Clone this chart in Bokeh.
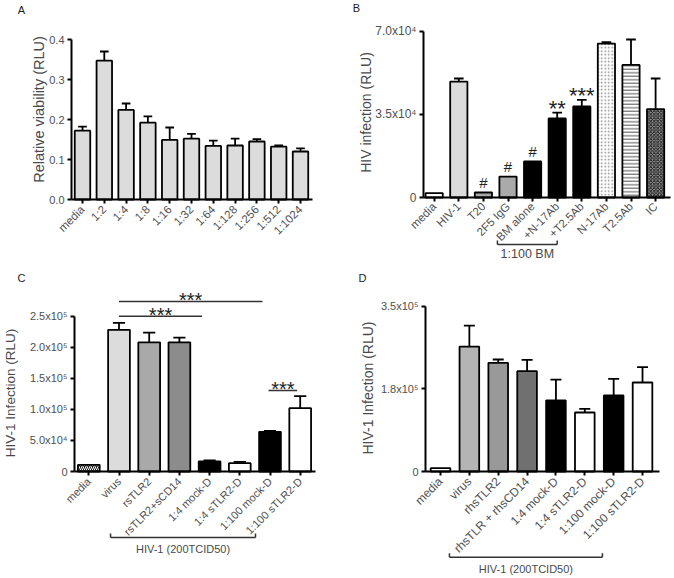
import math
from bokeh.plotting import figure
from bokeh.models import ColumnDataSource, FixedTicker, Label, Arrow, Range1d
from bokeh.layouts import row, column
from bokeh.embed import file_html
from bokeh.resources import INLINE
from bokeh.core.properties import value

FONT = "Liberation Sans"
TICK_C = "#505050"
TITLE_C = "#4a4a4a"
LETTER_C = "#222222"

# ---------------- data ----------------
# Panel A
A_labels = ["media", "1:2", "1:4", "1:8", "1:16", "1:32", "1:64", "1:128", "1:256", "1:512", "1:1024"]
A_values = [0.172, 0.347, 0.224, 0.192, 0.149, 0.152, 0.134, 0.135, 0.145, 0.132, 0.120]
A_errors = [0.010, 0.023, 0.016, 0.016, 0.031, 0.012, 0.013, 0.017, 0.006, 0.003, 0.008]
A_yticks = [0.0, 0.1, 0.2, 0.3, 0.4]
A_ytick_labels = ["0.0", "0.1", "0.2", "0.3", "0.4"]
A_title = "Relative viability (RLU)"

# Panel B
B_labels = ["media", "HIV-1", "T20", "2F5 IgG", "BM alone", "+N-17Ab", "+T2.5Ab", "N-17Ab", "T2.5Ab", "IC"]
B_values = [1800, 48800, 2100, 8800, 15150, 33250, 38300, 64800, 55800, 37200]
B_errors = [0, 1300, 0, 0, 0, 2500, 2800, 600, 10700, 12900]
B_marks = ["", "", "#", "#", "#", "**", "***", "", "", ""]
B_yticks = [0, 35000, 70000]
B_ytick_labels = ["0", "3.5x10\u2074", "7.0x10\u2074"]
B_title = "HIV infection (RLU)"
B_group = "1:100 BM"
B_group_span = [2.57, 5.0]

# Panel C
C_labels = ["media", "virus", "rsTLR2", "rsTLR2+sCD14", "1:4 mock-D", "1:4 sTLR2-D", "1:100 mock-D", "1:100 sTLR2-D"]
C_values = [10700, 228000, 208000, 208000, 16100, 13400, 63800, 102000]
C_errors = [0, 11300, 15500, 7500, 1600, 2200, 1700, 19300]
C_yticks = [0, 50000, 100000, 150000, 200000, 250000]
C_ytick_labels = ["0", "5.0x10\u2074", "1.0x10\u2075", "1.5x10\u2075", "2.0x10\u2075", "2.5x10\u2075"]
C_title = "HIV-1 Infection (RLU)"
C_sig_start = [1.0, 1.0, 5.95]
C_sig_end = [3.75, 5.75, 6.9]
C_sig_level = [250000, 273700, 130400]
C_sig_text = ["***", "***", "***"]
C_group = "HIV-1 (200TCID50)"
C_group_span = [0.72, 5.52]

# Panel D
D_labels = ["media", "virus", "rhsTLR2", "rhsTLR + rhsCD14", "1:4 mock-D", "1:4 sTLR2-D", "1:100 mock-D", "1:100 sTLR2-D"]
D_values = [7000, 264600, 230000, 212400, 150300, 124900, 160900, 188400]
D_errors = [0, 44400, 7100, 24000, 44400, 7800, 35300, 32500]
D_yticks = [0, 175000, 350000]
D_ytick_labels = ["0", "1.8x10\u2075", "3.5x10\u2075"]
D_title = "HIV-1 Infection (RLU)"
D_group = "HIV-1 (200TCID50)"
D_group_span = [0.31, 5.61]

# ---------------- styles ----------------
A_fill = ["#dcdcdc"] * 11
A_hatch = [" "] * 11
A_hatch_color = ["black"] * 11

B_fill = ["white", "#dcdcdc", "#a8a8a8", "#aaaaaa", "black", "black", "black", "white", "white", "#9a9a9a"]
B_hatch = [" ", " ", " ", " ", " ", " ", " ", "dot", "horizontal_line", "diagonal_cross"]
B_hatch_color = ["black"] * 7 + ["#8a8a8a", "#505050", "#1a1a1a"]

C_fill = ["#222222", "#dcdcdc", "#a9a9a9", "#8c8c8c", "black", "white", "black", "white"]
C_hatch = ["right_diagonal_line", " ", " ", " ", " ", " ", " ", " "]
C_hatch_color = ["white"] + ["black"] * 7

D_fill = ["white", "#b4b4b4", "#999999", "#707070", "black", "white", "black", "white"]
D_hatch = [" "] * 8
D_hatch_color = ["black"] * 8


def panel(fx0, fy0, w, h, ax_l, ax_r, ax_t, ax_b, c0, sp, ymax):
    """Figure whose frame covers the whole canvas; axes are placed inside it."""
    upp = ymax / (ax_b - ax_t)
    p = figure(width=w, height=h,
               x_range=Range1d((fx0 - c0) / sp, (fx0 + w - c0) / sp),
               y_range=Range1d(-(fy0 + h - ax_b) * upp, (ax_b - fy0) * upp),
               output_backend="svg", toolbar_location=None, title=None,
               min_border_left=0, min_border_right=0, min_border_top=0, min_border_bottom=0)
    p.outline_line_color = None
    p.xgrid.visible = False
    p.ygrid.visible = False

    def X(px):
        return (px - c0) / sp

    def Y(py):
        return (ax_b - py) * upp

    p.xaxis.fixed_location = 0
    p.yaxis.fixed_location = X(ax_l)
    p.xaxis.bounds = (X(ax_l), X(ax_r))
    p.yaxis.bounds = (0, ymax)
    return p, X, Y


def style_axes(p, labels, yticks, ylabels, xsize, ysize):
    p.xaxis.ticker = FixedTicker(ticks=list(range(len(labels))))
    p.xaxis.major_label_overrides = {i: lab for i, lab in enumerate(labels)}
    p.xaxis.major_label_orientation = math.pi / 4
    p.yaxis.ticker = FixedTicker(ticks=yticks)
    p.yaxis.major_label_overrides = {t: lab for t, lab in zip(yticks, ylabels)}
    for ax, size in ((p.xaxis, xsize), (p.yaxis, ysize)):
        ax.axis_line_width = 2
        ax.axis_line_color = "black"
        ax.major_tick_line_width = 2
        ax.major_tick_line_color = "black"
        ax.major_tick_out = 4
        ax.major_tick_in = 0
        ax.minor_tick_line_color = None
        ax.major_label_text_font = FONT
        ax.major_label_text_font_size = size
        ax.major_label_text_color = TICK_C
    p.xaxis.major_label_standoff = 4
    p.yaxis.major_label_standoff = 3


def draw_bars(p, values, errors, fills, hatches, hcolors, bw, hscale=4):
    xs = list(range(len(values)))
    src = ColumnDataSource(dict(x=xs, top=values, fill=fills, hatch=hatches, hcol=hcolors))
    p.vbar(x="x", top="top", width=bw, bottom=0, source=src, fill_color="fill",
           line_color="black", line_width=1.8, hatch_pattern="hatch", hatch_color="hcol",
           hatch_scale=hscale, hatch_weight=1)
    ex = [x for x, e in zip(xs, errors) if e > 0]
    ev = [v for v, e in zip(values, errors) if e > 0]
    et = [v + e for v, e in zip(values, errors) if e > 0]
    cw = bw * 0.28
    esrc = ColumnDataSource(dict(x=ex, v=ev, t=et, xl=[x - cw for x in ex], xr=[x + cw for x in ex]))
    p.segment(x0="x", y0="v", x1="x", y1="t", source=esrc, line_color="black", line_width=1.8)
    p.segment(x0="xl", y0="t", x1="xr", y1="t", source=esrc, line_color="black", line_width=1.8)


def add_text(p, x, y, text, size, color=TITLE_C, angle=0.0, align="center"):
    p.add_layout(Label(x=x, y=y, text=text, text_font=FONT, text_font_size=size,
                       text_color=color, angle=angle, text_align=align, text_baseline="middle"))


def add_line(p, xa, ya, xb, yb, width=1.5, color="#333333"):
    p.add_layout(Arrow(x_start=xa, y_start=ya, x_end=xb, y_end=yb, start=None, end=None,
                       line_width=width, line_color=color))


def bracket(p, Y, span, py, label, label_py, size):
    ya = Y(py)
    yt = Y(py - 4)
    add_line(p, span[0], ya, span[1], ya)
    add_line(p, span[0], ya, span[0], yt)
    add_line(p, span[1], ya, span[1], yt)
    add_text(p, (span[0] + span[1]) / 2, Y(label_py), label, size)


# ---------------- Panel A ----------------
pA, XA, YA = panel(0, 0, 337, 270, 71, 312, 39, 199, 82, 21.8, 0.4)
style_axes(pA, A_labels, A_yticks, A_ytick_labels, "11.5px", "11px")
pA.yaxis.major_label_overrides = {0: "0.0", 0.1: "0.1", 0.2: "0.2", 0.3: "0.3", 0.4: "0.4"}
draw_bars(pA, A_values, A_errors, A_fill, A_hatch, A_hatch_color, 0.71)
add_text(pA, XA(38), YA(109), A_title, "14.5px", angle=math.pi / 2)
add_text(pA, XA(21), YA(9), "A", "11px", color=LETTER_C)

# ---------------- Panel B ----------------
pB, XB, YB = panel(337, 0, 337, 270, 423, 670, 30.7, 197, 433.7, 24.6, 70000)
style_axes(pB, B_labels, B_yticks, B_ytick_labels, "11.5px", "12px")
pB.xaxis.major_label_standoff = 3
draw_bars(pB, B_values, B_errors, B_fill, B_hatch, B_hatch_color, 0.70, hscale=3.5)
hx = [i for i, m in enumerate(B_marks) if m == "#"]
hy = [B_values[i] + B_errors[i] for i in hx]
pB.text(x=hx, y=hy, text=["#"] * len(hx), text_font=value(FONT), text_font_size="15px",
        text_align="center", text_baseline="middle", y_offset=-10, text_color=LETTER_C)
sx = [i for i, m in enumerate(B_marks) if m.startswith("*")]
sy = [B_values[i] + B_errors[i] for i in sx]
pB.text(x=sx, y=sy, text=[B_marks[i] for i in sx], text_font=value(FONT), text_font_size="22px",
        text_align="center", text_baseline="middle", y_offset=-4, text_color=LETTER_C)
bracket(pB, YB, B_group_span, 244, B_group, 253, "12.5px")
add_text(pB, XB(365), YB(112), B_title, "14px", angle=math.pi / 2)
add_text(pB, XB(356), YB(7), "B", "11px", color=LETTER_C)

# ---------------- Panel C ----------------
pC, XC, YC = panel(0, 270, 337, 308, 74, 315, 315.7, 471, 88.3, 30.2, 250000)
style_axes(pC, C_labels, C_yticks, C_ytick_labels, "11px", "11px")
draw_bars(pC, C_values, C_errors, C_fill, C_hatch, C_hatch_color, 0.72, hscale=4)
pC.segment(x0=C_sig_start, y0=C_sig_level, x1=C_sig_end, y1=C_sig_level,
           line_color="#333333", line_width=1.5)
pC.text(x=[(a + b) / 2 for a, b in zip(C_sig_start, C_sig_end)], y=C_sig_level, text=C_sig_text,
        text_font=value(FONT), text_font_size="20px", text_align="center",
        text_baseline="middle", y_offset=-1, text_color=LETTER_C)
bracket(pC, YC, C_group_span, 537, C_group, 548, "11px")
add_text(pC, XC(10), YC(392.5), C_title, "13.5px", angle=math.pi / 2)
add_text(pC, XC(21), YC(277), "C", "11px", color=LETTER_C)

# ---------------- Panel D ----------------
pD, XD, YD = panel(337, 270, 337, 308, 425, 659, 305.7, 471, 440, 28.86, 350000)
style_axes(pD, D_labels, D_yticks, D_ytick_labels, "12px", "11px")
draw_bars(pD, D_values, D_errors, D_fill, D_hatch, D_hatch_color, 0.68)
bracket(pD, YD, D_group_span, 556.7, D_group, 568, "11px")
add_text(pD, XD(367), YD(387.5), D_title, "14px", angle=math.pi / 2)
add_text(pD, XD(362), YD(277), "D", "11px", color=LETTER_C)

layout = column(row(pA, pB), row(pC, pD))
open("out.html", "w").write(file_html(layout, INLINE))
